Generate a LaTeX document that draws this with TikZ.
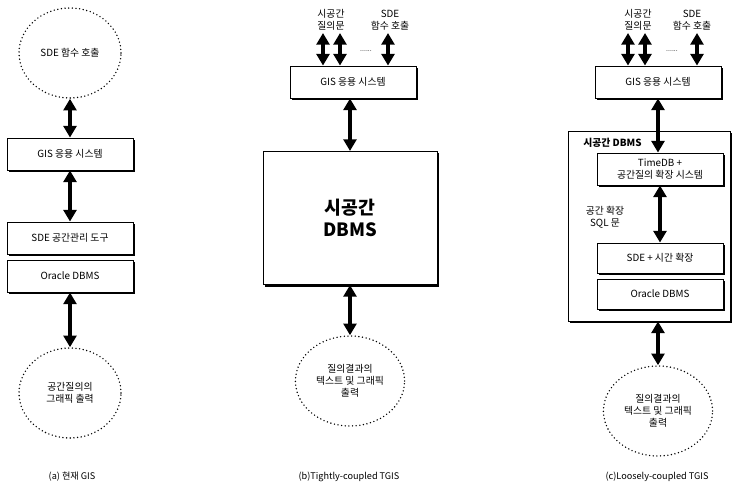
\documentclass[tikz,border=0pt]{standalone}
\usepackage{fontspec}
\setmainfont{Noto Sans CJK KR}
\usetikzlibrary{positioning,arrows.meta,shapes.geometric,shadows}

\begin{document}
\begin{tikzpicture}[x=.025cm,y=-.025cm,font=\fontsize{7}{8.5}\selectfont,
box/.style={draw,fill=white,line width=.6pt,align=center,minimum width=3.15cm,minimum height=.8cm,inner sep=2pt,drop shadow={shadow xshift=1.5pt,shadow yshift=-1.5pt,fill=black,opacity=1}},
blob/.style={ellipse,draw,line width=1.1pt,line cap=round,dash pattern=on 0pt off 2.6pt,minimum width=2.55cm,minimum height=2.25cm,align=center},
dbl/.style={{Triangle[length=2.9mm,width=3.2mm]}-{Triangle[length=2.9mm,width=3.2mm]},line width=2.6pt},
capt/.style={font=\fontsize{6.5}{8}\selectfont},
lab/.style={align=center,inner sep=1pt}]
\useasboundingbox (0,0) rectangle (735,486);
% (a)
\node[blob] (calla) at (70,53) {SDE 함수 호출};
\node[box] (gisa) at (70,154) {GIS 응용 시스템};
\node[box] (sdea) at (70,238) {SDE 공간관리 도구};
\node[box,below=1.3mm of sdea] (oraa) {Oracle DBMS};
\node[blob] (outa) at (70,393) {공간질의의\\그래픽 출력};
\node[capt] (capa) at (72,477) {(a) 현재 GIS};
\draw[dbl] (calla)--(gisa);
\draw[dbl] (gisa)--(sdea);
\draw[dbl] (oraa)--(outa);
% (b)
\node[lab] (qlb) at (331,20) {시공간\\질의문};
\node[lab] (sdelb) at (390,20) {SDE\\함수 호출};
\node[box] (gisb) at (353,82) {GIS 응용 시스템};
\node[inner sep=0pt,font=\tiny] (dotsb) at (366,51) {......};
\coordinate (qb1) at (323,33);
\coordinate (qb2) at (340,33);
\coordinate (qb3) at (388,33);
\node[box,minimum width=4.35cm,minimum height=3.33cm,font=\fontsize{13}{16}\selectfont\bfseries] (dbmsb) at (350,218) {시공간\\DBMS};
\node[blob] (outb) at (350,381) {질의결과의\\텍스트 및 그래픽\\출력};
\node[capt] (capb) at (349,477) {(b)Tightly-coupled TGIS};
\foreach \q in {qb1,qb2,qb3} \draw[dbl] (\q)--(\q |- gisb.north);
\draw[dbl] (dbmsb.north |- gisb.south)--(dbmsb.north);
\draw[dbl] (dbmsb)--(outb);
% (c)
\node[lab] (qlc) at (638,20) {시공간\\질의문};
\node[lab] (sdelc) at (692,20) {SDE\\함수 호출};
\node[box] (gisc) at (658,82) {GIS 응용 시스템};
\node[inner sep=0pt,font=\tiny] (dotsc) at (672,51) {......};
\coordinate (qc1) at (628,33);
\coordinate (qc2) at (645,33);
\coordinate (qc3) at (697,33);
\node[box,minimum width=4.05cm,minimum height=4.75cm] (dbmsc) at (649,226) {};
\node[anchor=west,inner sep=0pt,font=\fontsize{7}{8.5}\selectfont\bfseries] (dbmslab) at (583,143) {시공간 DBMS};
\node[box,minimum height=.8cm] (timedb) at (660,169) {TimeDB +\\공간질의 확장 시스템};
\node[lab] (sqllab) at (605,217) {공간 확장\\SQL 문};
\node[box,minimum height=.75cm] (sdec) at (660,258) {SDE + 시간 확장};
\node[box,minimum height=.75cm,below=1.3mm of sdec] (orac) {Oracle DBMS};
\node[blob] (outc) at (658,411) {질의결과의\\텍스트 및 그래픽\\출력};
\node[capt] (capc) at (657,477) {(c)Loosely-coupled TGIS};
\foreach \q in {qc1,qc2,qc3} \draw[dbl] (\q)--(\q |- gisc.north);
\draw[dbl] (gisc.south)--(gisc.south |- timedb.north);
\draw[dbl] (timedb)--(sdec);
\draw[dbl] (dbmsc.south -| outc)--(outc);
\end{tikzpicture}
\end{document}
